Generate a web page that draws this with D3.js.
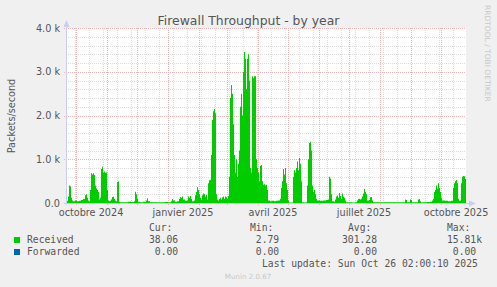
<!DOCTYPE html>
<html>
<head>
<meta charset="utf-8">
<script src="https://cdn.jsdelivr.net/npm/d3@7"></script>
<style>
  body { margin: 0; background: #f0f0f0; }
  svg { display: block; font-family: "DejaVu Sans", sans-serif; }
  .mono { font-family: "DejaVu Sans Mono", monospace; white-space: pre; }
</style>
</head>
<body>
<svg width="497" height="287"></svg>
<script>
// Chart data
const startDate = new Date(2024, 8, 21);
const endDate = new Date(2025, 9, 26);

// day offsets from startDate, and received packets/s at that day
const dayOffsets = [
  0, 2, 3, 4, 5, 6, 7, 9, 11, 13, 15, 17, 19, 20, 21, 22, 23,
  24, 25, 26, 27, 28, 29, 30, 31, 32, 33, 34, 35, 36, 37, 38, 39, 40, 41,
  42, 43, 44, 45, 46, 47, 48, 49, 50, 51, 52, 53, 54, 56, 59, 62, 65, 68, 69, 70, 71, 72,
  74, 77, 80, 81, 82, 84, 87, 90, 93, 96, 99, 102, 105, 106, 107, 109, 111,
  113, 114, 115, 116, 117, 119, 121, 122, 123, 124, 125, 126, 128, 129, 130, 131, 132, 133, 134, 135, 136, 137, 138, 139, 140, 141,
  142, 143, 144, 145, 146, 147, 148, 149, 150, 151, 152, 153, 154, 155, 156, 157, 158, 159, 160, 161, 162,
  163, 164, 165, 166, 167, 168, 169, 170, 171, 172, 173, 174, 175, 176, 177, 178, 179, 180, 181, 182,
  183, 184, 185, 186, 187, 188, 189, 190, 191, 192, 193, 194, 195, 196, 197, 198, 199, 200, 201,
  202, 204, 206, 208, 210, 212, 214, 215, 216, 217, 218, 219, 220, 221, 222, 223, 225, 227, 228, 229, 230, 231, 232, 233, 234, 235,
  236, 238, 240, 241, 242, 243, 244, 245, 246, 247, 248, 249, 250, 251, 254, 257, 260, 262, 263, 264, 265, 266, 268, 269, 270, 271, 272, 273, 274, 275, 276, 277, 278, 279,
  280, 283, 286, 289, 291, 292, 293, 294, 295, 296, 297, 298, 299, 300, 301, 303, 304, 305, 306, 307,
  310, 314, 318, 322, 326, 330, 334, 337, 339, 340, 341, 344, 345, 346, 349, 352, 353, 354, 355, 358, 361, 364, 366,
  367, 368, 369, 370, 371, 372, 373, 374, 375, 376, 379, 382, 385, 387, 388, 389, 390, 391, 392, 393, 394, 395, 396, 397, 398, 399, 400
];
const received = [
  50, 150, 400, 380, 120, 60, 40, 60, 40, 50, 70, 90, 180, 200, 120, 60, 40,
  300, 680, 650, 680, 640, 400, 330, 300, 250, 80, 120, 780, 830, 700, 720, 690, 700, 300,
  60, 40, 50, 80, 140, 145, 100, 60, 40, 480, 490, 30, 20, 15, 20, 30, 25, 40, 260, 200, 90, 30,
  20, 30, 60, 110, 40, 20, 15, 20, 20, 15, 25, 20, 40, 90, 60, 30, 40,
  90, 140, 120, 150, 80, 50, 60, 150, 120, 160, 90, 40, 60, 180, 250, 360, 300, 200, 120, 80, 180, 220, 200, 150, 190, 80,
  450, 520, 530, 1100, 1900, 2100, 2150, 2050, 200, 80, 60, 90, 120, 80, 130, 150, 100, 150, 130, 90, 160,
  600, 2400, 2700, 2500, 1800, 1100, 700, 1000, 600, 900, 1200, 2200, 2500, 2000, 3000, 3450, 3300, 2600, 3300, 3400,
  2800, 800, 700, 2900, 2850, 2900, 2900, 1000, 800, 700, 500, 850, 870, 500, 420, 430, 400, 420, 300,
  60, 40, 50, 40, 50, 60, 100, 350, 500, 780, 650, 800, 450, 300, 60, 10, 10, 600, 750, 700, 800, 950, 750, 1030, 900, 500,
  20, 10, 20, 400, 1000, 1370, 1400, 1200, 400, 250, 300, 200, 100, 60, 50, 60, 70, 80, 600, 560, 200, 40, 30, 80, 150, 170, 120, 230, 160, 90, 220, 150, 120, 60,
  20, 15, 10, 20, 60, 90, 100, 80, 100, 150, 220, 320, 250, 200, 60, 70, 130, 140, 60, 20,
  15, 20, 15, 20, 15, 20, 15, 20, 80, 70, 20, 80, 70, 20, 15, 80, 90, 40, 15, 20, 25, 30, 60,
  100, 250, 300, 400, 330, 450, 350, 250, 120, 60, 50, 40, 50, 350, 450, 500, 525, 450, 100, 50, 60, 450, 600, 620, 610, 550, 40
];
const forwarded = dayOffsets.map(() => 0);

const yTicks = [0, 1000, 2000, 3000, 4000];
const yTickLabels = ["0.0", "1.0 k", "2.0 k", "3.0 k", "4.0 k"];
const xLabelDates = [new Date(2024, 9, 1), new Date(2025, 0, 1), new Date(2025, 3, 1), new Date(2025, 6, 1), new Date(2025, 9, 1)];
const xLabels = ["octobre 2024", "janvier 2025", "avril 2025", "juillet 2025", "octobre 2025"];

const legendHeaders = ["Cur:", "Min:", "Avg:", "Max:"];
const legendSeries = ["Received", "Forwarded"];
const legendColors = ["#00cc00", "#0066b3"];
const legendValues = [
  ["38.06", " 2.79", "301.28", "15.81k"],
  [" 0.00", " 0.00", "  0.00", " 0.00"]
];

// Layout
const svg = d3.select("svg");
const plotLeft = 66, plotRight = 466, plotTop = 28, plotBottom = 203;

const x = d3.scaleTime().domain([startDate, endDate]).range([plotLeft, plotRight]);
const y = d3.scaleLinear().domain([0, 4000]).range([plotBottom, plotTop]);

svg.append("rect").attr("x", plotLeft).attr("y", plotTop)
   .attr("width", plotRight - plotLeft).attr("height", plotBottom - plotTop).attr("fill", "#ffffff");

// minor grid
const yMinor = d3.range(0, 4001, 200).filter(v => v % 1000 !== 0);
svg.append("g").selectAll("line").data(yMinor).enter().append("line")
   .attr("x1", plotLeft).attr("x2", plotRight)
   .attr("y1", d => Math.round(y(d)) + 0.5).attr("y2", d => Math.round(y(d)) + 0.5)
   .attr("stroke", "#dcdcdc").attr("stroke-dasharray", "1,1");

const anchorMonday = new Date(2025, 6, 7);
const xMinor = d3.timeMonday.range(startDate, endDate)
   .filter(d => Math.round((d - anchorMonday) / (7 * 864e5)) % 2 === 0);
svg.append("g").selectAll("line").data(xMinor).enter().append("line")
   .attr("x1", d => Math.round(x(d)) + 0.5).attr("x2", d => Math.round(x(d)) + 0.5)
   .attr("y1", plotTop).attr("y2", plotBottom)
   .attr("stroke", "#dcdcdc").attr("stroke-dasharray", "1,1");

// major grid
const majorColor = "#ebb3b3";
svg.append("g").selectAll("line").data(yTicks).enter().append("line")
   .attr("x1", plotLeft - 2).attr("x2", plotRight)
   .attr("y1", d => Math.round(y(d)) + 0.5).attr("y2", d => Math.round(y(d)) + 0.5)
   .attr("stroke", majorColor).attr("stroke-dasharray", "1,1");

const xMajor = d3.timeMonth.range(startDate, endDate);
svg.append("g").selectAll("line").data(xMajor).enter().append("line")
   .attr("x1", d => Math.round(x(d)) + 0.5).attr("x2", d => Math.round(x(d)) + 0.5)
   .attr("y1", plotTop).attr("y2", plotBottom + 2)
   .attr("stroke", majorColor).attr("stroke-dasharray", "1,1");

// series
const n = Math.min(dayOffsets.length, received.length);
const recData = d3.range(n).map(i => ({date: d3.timeDay.offset(startDate, dayOffsets[i]), v: received[i]}));
const fwdData = d3.range(n).map(i => ({date: d3.timeDay.offset(startDate, dayOffsets[i]), v: forwarded[i]}));

const area = d3.area().curve(d3.curveStepAfter)
   .x(d => x(d.date)).y0(y(0)).y1(d => y(d.v));

svg.append("path").datum(recData).attr("d", area).attr("fill", "#00cc00");
svg.append("path").datum(fwdData).attr("d", area).attr("fill", "#0066b3");

// axes with arrows
const axisColor = "#c9cdf3";
svg.append("line").attr("x1", plotLeft + 0.5).attr("x2", plotLeft + 0.5).attr("y1", plotBottom + 2).attr("y2", 24)
   .attr("stroke", axisColor);
svg.append("path").attr("d", `M${plotLeft - 2.5},27 L${plotLeft + 0.5},20 L${plotLeft + 3.5},27 Z`).attr("fill", axisColor);
svg.append("line").attr("x1", plotLeft - 2).attr("x2", plotRight + 4).attr("y1", plotBottom + 0.5).attr("y2", plotBottom + 0.5)
   .attr("stroke", axisColor);
svg.append("path").attr("d", `M${plotRight + 3},${plotBottom - 2.5} L${plotRight + 10},${plotBottom + 0.5} L${plotRight + 3},${plotBottom + 3.5} Z`).attr("fill", axisColor);

// tick labels
svg.append("g").selectAll("text").data(yTicks).enter().append("text")
   .attr("x", 60).attr("y", d => y(d) + 3.5)
   .attr("text-anchor", "end").attr("font-size", "9.7px").attr("fill", "#555")
   .text((d, i) => yTickLabels[i]);

svg.append("g").selectAll("text").data(xLabelDates).enter().append("text")
   .attr("x", d => x(d3.timeDay.offset(d, 15))).attr("y", 215.5)
   .attr("text-anchor", "middle").attr("font-size", "9.7px").attr("fill", "#555")
   .text((d, i) => xLabels[i]);

// title and side texts
svg.append("text").attr("x", 248.5).attr("y", 24.5).attr("text-anchor", "middle")
   .attr("font-size", "12.4px").attr("fill", "#555").text("Firewall Throughput - by year");

svg.append("text").attr("transform", "translate(15,116) rotate(-90)")
   .attr("text-anchor", "middle").attr("font-size", "9.7px").attr("fill", "#555")
   .text("Packets/second");

svg.append("text").attr("transform", "translate(485,5) rotate(90)")
   .attr("font-size", "7.5px").attr("fill", "#c8c8c8")
   .text("RRDTOOL / TOBI OETIKER");

// legend
const colX = [149, 250, 342, 447];
const hdrX = [149, 250, 348, 447];
svg.append("g").selectAll("text").data(legendHeaders).enter().append("text")
   .attr("class", "mono").attr("x", (d, i) => hdrX[i]).attr("y", 231)
   .attr("font-size", "9.7px").attr("fill", "#555").text(d => d);

legendSeries.forEach((name, r) => {
  const yy = 243 + r * 12;
  svg.append("rect").attr("x", 14).attr("y", yy - 6).attr("width", 6).attr("height", 6)
     .attr("fill", legendColors[r]);
  svg.append("text").attr("class", "mono").attr("x", 27).attr("y", yy)
     .attr("font-size", "9.7px").attr("fill", "#555").text(name);
  svg.append("g").selectAll("text").data(legendValues[r]).enter().append("text")
     .attr("class", "mono").attr("x", (d, i) => colX[i]).attr("y", yy)
     .attr("font-size", "9.7px").attr("fill", "#555").text(d => d);
});

svg.append("text").attr("class", "mono").attr("x", 262).attr("y", 266.5)
   .attr("font-size", "9.7px").attr("fill", "#555").text("Last update: Sun Oct 26 02:00:10 2025");

svg.append("text").attr("x", 248).attr("y", 279).attr("text-anchor", "middle")
   .attr("font-size", "7.1px").attr("fill", "#c8c8c8").text("Munin 2.0.67");
</script>
</body>
</html>
